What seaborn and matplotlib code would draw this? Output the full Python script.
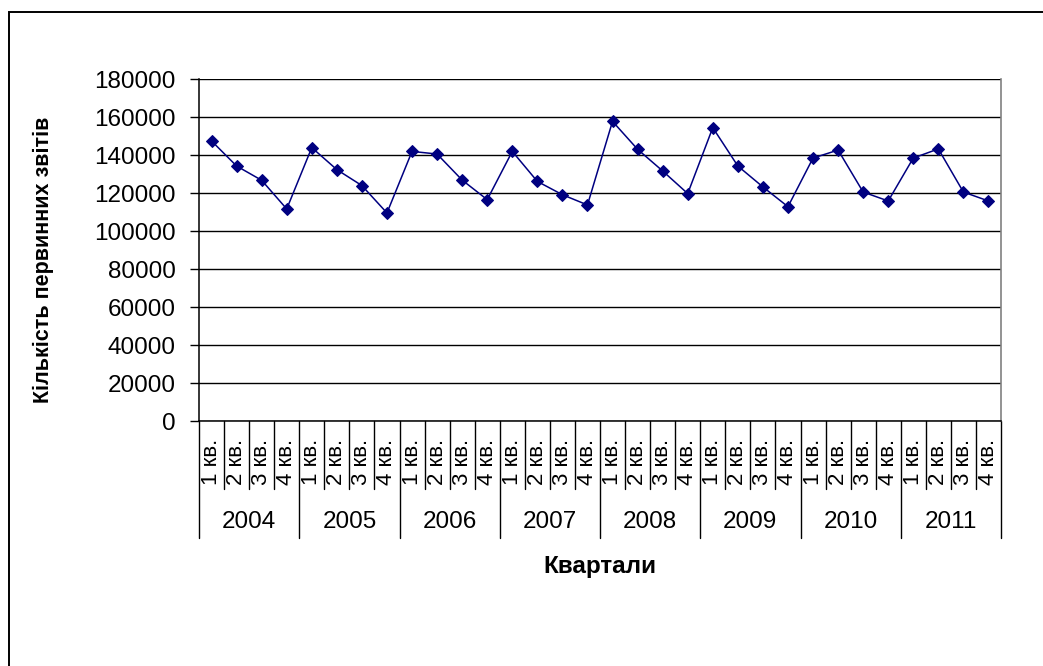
import matplotlib
matplotlib.use('Agg')
import matplotlib.pyplot as plt
import matplotlib.transforms as mtransforms
from matplotlib.patches import Rectangle
import pandas as pd
import seaborn as sns

# quarterly counts of primary reports
years = ['2004', '2005', '2006', '2007', '2008', '2009', '2010', '2011']
quarters = ['1 кв.', '2 кв.', '3 кв.', '4 кв.']
reports = [
    147400, 134200, 126700, 111600,
    143900, 132300, 123900, 109500,
    141900, 140500, 126800, 116500,
    141900, 126100, 119100, 113700,
    157700, 143000, 131600, 119700,
    154400, 134200, 123200, 112800,
    138400, 142600, 120500, 115800,
    138400, 143200, 120500, 115800,
]
y_ticks = [0, 20000, 40000, 60000, 80000, 100000, 120000, 140000, 160000, 180000]

sns.set_theme(style='white')
plt.rcParams['font.family'] = ['Liberation Sans', 'DejaVu Sans']

df = pd.DataFrame({
    'pos': range(len(reports)),
    'value': reports,
    'label': [q for _ in years for q in quarters],
})

fig = plt.figure(figsize=(10.43, 6.66), dpi=100)
ax = fig.add_axes([199 / 1043, 1 - 421 / 666, 802 / 1043, 342 / 666])

sns.lineplot(data=df, x='pos', y='value', ax=ax, color='#000080',
             marker='D', markersize=6.5, markeredgecolor='#000080',
             linewidth=1.1, zorder=3)

ax.set_xlim(-0.5, len(reports) - 0.5)
ax.set_ylim(0, 180000)
ax.set_yticks(y_ticks)
ax.set_yticklabels([str(v) for v in y_ticks], fontsize=17.5)
ax.yaxis.grid(True, color='black', linewidth=1.0)
ax.set_axisbelow(True)
ax.tick_params(axis='y', direction='out', length=6.5, width=1, color='black',
               pad=10.5, left=True, labelcolor='black')

ax.set_xticks(df['pos'])
ax.set_xticklabels(df['label'], rotation=90, fontsize=16, va='top', ha='center')
ax.tick_params(axis='x', length=0, pad=13, labelcolor='black')

ax.set_xlabel('')
ax.set_ylabel('')
for side in ['left', 'bottom']:
    ax.spines[side].set_color('black')
    ax.spines[side].set_linewidth(1.1)
ax.spines['top'].set_visible(False)
ax.spines['right'].set_color('#808080')
ax.spines['right'].set_linewidth(1.2)

# category separators (quarters short, years long)
trans = mtransforms.blended_transform_factory(ax.transData, ax.transAxes)
short_y = -(489 - 421) / 342
long_y = -(538 - 421) / 342
for i in range(len(reports) + 1):
    bottom = long_y if i % 4 == 0 else short_y
    ax.plot([i - 0.5, i - 0.5], [0, bottom], transform=trans, color='black',
            linewidth=1.0, clip_on=False)

year_y = -(522 - 421) / 342
for k, yr in enumerate(years):
    ax.text(4 * k + 1.5, year_y, yr, transform=trans, ha='center', va='center',
            fontsize=17.5, color='black')

fig.text(600 / 1043, 1 - 566 / 666, 'Квартали', ha='center', va='center',
         fontsize=17.5, fontweight='bold', color='black')
fig.text(43 / 1043, 1 - 260 / 666, 'Кількість первинних звітів', ha='center',
         va='center', rotation=90, fontsize=15.5, fontweight='bold', color='black')

# outer chart frame (only top and left edges visible in the crop)
fig.patches.append(Rectangle((9 / 1043, -0.1), 1.2, 1 - 12 / 666 + 0.1,
                             transform=fig.transFigure, fill=False,
                             edgecolor='black', linewidth=1.4))

fig.savefig('out.png', dpi=100)
